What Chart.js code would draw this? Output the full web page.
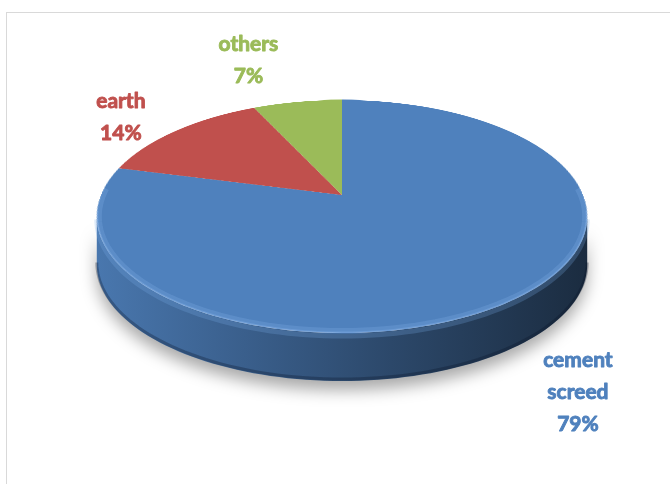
<!DOCTYPE html>
<html>
<head>
<meta charset="utf-8">
<script src="https://cdn.jsdelivr.net/npm/chart.js@4.4.1/dist/chart.umd.min.js"></script>
<style>
  html, body { margin: 0; padding: 0; background: #fff; }
  #wrap { width: 670px; height: 484px; position: relative; }
</style>
</head>
<body>
<div id="wrap"><canvas id="floorChart" width="670" height="484"></canvas></div>
<script>
// floor finish shares (%)
const categories = ['cement screed', 'earth', 'others'];
const shares = [79, 14, 7];
const sliceColors = ['#4f81bd', '#c0504d', '#9bbb59'];

// where each label sits, relative to the rim point at the slice middle
const labelShift = [[63, 68], [-55, -23], [-49, -51]];

// tilted-disc look: vertical squash, perspective, lift of the centre, thickness
const view = { tilt: 0.467, persp: -0.1845, lift: 47, depth: 48 };

function shade(hex, f) {
  const n = parseInt(hex.slice(1), 16);
  const r = Math.round(((n >> 16) & 255) * f);
  const g = Math.round(((n >> 8) & 255) * f);
  const b = Math.round((n & 255) * f);
  return `rgb(${r},${g},${b})`;
}

// canvas angle on the flat pie -> point on the tilted disc
function project(el, ang, rho) {
  const u = rho * Math.cos(ang), v = rho * Math.sin(ang);
  const w = 1 + view.persp * v;
  return {
    x: el.x + el.outerRadius * u / w,
    y: el.y - view.lift + el.outerRadius * view.tilt * v / w
  };
}

function rimPath(ctx, el, a1, a2, dy, reverse) {
  const N = 90;
  for (let i = 0; i <= N; i++) {
    const t = reverse ? 1 - i / N : i / N;
    const p = project(el, a1 + (a2 - a1) * t, 1);
    if (i === 0 && !reverse) ctx.moveTo(p.x, p.y + dy);
    else ctx.lineTo(p.x, p.y + dy);
  }
}

const tiltedPie = {
  id: 'tiltedPie',
  beforeDraw(chart) {
    const ctx = chart.ctx;
    ctx.save();
    ctx.strokeStyle = '#d9d9d9';
    ctx.lineWidth = 1;
    ctx.strokeRect(6.5, 12.5, 900, 900);
    ctx.restore();
  },
  beforeDatasetsDraw(chart) {
    const ctx = chart.ctx;
    const arcs = chart.getDatasetMeta(0).data;
    const el0 = arcs[0];
    const R = el0.outerRadius;
    const k = view.persp;
    // front silhouette runs between the two widest points
    const a1 = Math.asin(-k), a2 = Math.PI - a1;
    const left = project(el0, a2, 1).x, right = project(el0, a1, 1).x;

    // side wall, one piece per slice that faces the viewer
    arcs.forEach((el, i) => {
      let s = el.startAngle, e = el.endAngle;
      [0, 2 * Math.PI, -2 * Math.PI].forEach(off => {
        const lo = Math.max(s + off, a1), hi = Math.min(e + off, a2);
        if (hi <= lo) return;
        const g = ctx.createLinearGradient(left, 0, right, 0);
        const c = sliceColors[i];
        g.addColorStop(0, shade(c, 0.92));
        g.addColorStop(0.3, shade(c, 0.74));
        g.addColorStop(0.6, shade(c, 0.56));
        g.addColorStop(1, shade(c, 0.34));
        ctx.save();
        ctx.shadowColor = 'rgba(0,0,0,0.34)';
        ctx.shadowBlur = 16;
        ctx.shadowOffsetY = 9;
        ctx.beginPath();
        rimPath(ctx, el, lo, hi, 0, false);
        rimPath(ctx, el, lo, hi, view.depth, true);
        ctx.closePath();
        ctx.fillStyle = g;
        ctx.fill();
        ctx.restore();
        // darker lower lip of the wall
        ctx.save();
        ctx.beginPath();
        rimPath(ctx, el, lo, hi, view.depth - 2, false);
        ctx.strokeStyle = 'rgba(10,20,40,0.3)';
        ctx.lineWidth = 3;
        ctx.stroke();
        // lighter upper lip just under the face
        ctx.beginPath();
        rimPath(ctx, el, lo, hi, 3, false);
        ctx.strokeStyle = 'rgba(120,170,230,0.25)';
        ctx.lineWidth = 5;
        ctx.stroke();
        ctx.restore();
      });
    });

    // flat pie drawn off-screen by the arc elements, then warped row by row
    const S = Math.ceil(2 * R) + 4;
    const off = document.createElement('canvas');
    off.width = S; off.height = S;
    const octx = off.getContext('2d');
    octx.translate(S / 2 - el0.x, S / 2 - el0.y);
    arcs.forEach(el => el.draw(octx));

    const cy0 = el0.y - view.lift;
    const B = R * view.tilt;
    const vAt = d => d / (B - d * k);
    const top = project(el0, -Math.PI / 2, 1).y;
    const bot = project(el0, Math.PI / 2, 1).y;
    for (let y = Math.floor(top); y < Math.ceil(bot); y++) {
      const v0 = Math.max(-1, vAt(y - cy0)), v1 = Math.min(1, vAt(y + 1 - cy0));
      if (v1 <= v0) continue;
      const w = 1 + k * (v0 + v1) / 2;
      const half = R / w;
      ctx.drawImage(off, S / 2 - R, S / 2 + v0 * R, 2 * R, (v1 - v0) * R,
        el0.x - half, y, 2 * half, 1);
    }

    // soft light bevel along the front edge of the top face
    ctx.save();
    ctx.beginPath();
    rimPath(ctx, el0, -Math.PI, Math.PI, 0, false);
    ctx.clip();
    ctx.beginPath();
    rimPath(ctx, el0, a1 - 0.25, a2 + 0.25, 0, false);
    ctx.strokeStyle = 'rgba(140,185,240,0.22)';
    ctx.lineWidth = 10;
    ctx.stroke();
    ctx.beginPath();
    rimPath(ctx, el0, a1 - 0.05, a2 + 0.05, 0, false);
    ctx.strokeStyle = 'rgba(160,200,250,0.25)';
    ctx.lineWidth = 3;
    ctx.stroke();
    ctx.restore();

    return false;
  },
  afterDraw(chart) {
    const ctx = chart.ctx;
    const arcs = chart.getDatasetMeta(0).data;
    ctx.save();
    ctx.font = 'bold 21px Lato, "Open Sans", sans-serif';
    ctx.textAlign = 'center';
    ctx.textBaseline = 'alphabetic';
    ctx.lineWidth = 0.9;
    ctx.lineJoin = 'round';
    arcs.forEach((el, i) => {
      const mid = (el.startAngle + el.endAngle) / 2;
      const p = project(el, mid, 1);
      const lines = categories[i].split(' ').concat(`${shares[i]}%`);
      ctx.fillStyle = sliceColors[i];
      ctx.strokeStyle = sliceColors[i];
      lines.forEach((t, j) => {
        const x = p.x + labelShift[i][0], y = p.y + labelShift[i][1] + j * 32;
        ctx.fillText(t, x, y);
        ctx.strokeText(t, x, y);
      });
    });
    ctx.restore();
  }
};

new Chart(document.getElementById('floorChart'), {
  type: 'pie',
  data: {
    labels: categories,
    datasets: [{
      data: shares,
      backgroundColor: sliceColors,
      borderWidth: 0,
      hoverOffset: 0
    }]
  },
  options: {
    responsive: false,
    animation: false,
    devicePixelRatio: 1,
    layout: { padding: { left: 101, right: 87, top: 0, bottom: 0 } },
    plugins: {
      legend: { display: false },
      tooltip: { enabled: false }
    }
  },
  plugins: [tiltedPie]
});
</script>
</body>
</html>
